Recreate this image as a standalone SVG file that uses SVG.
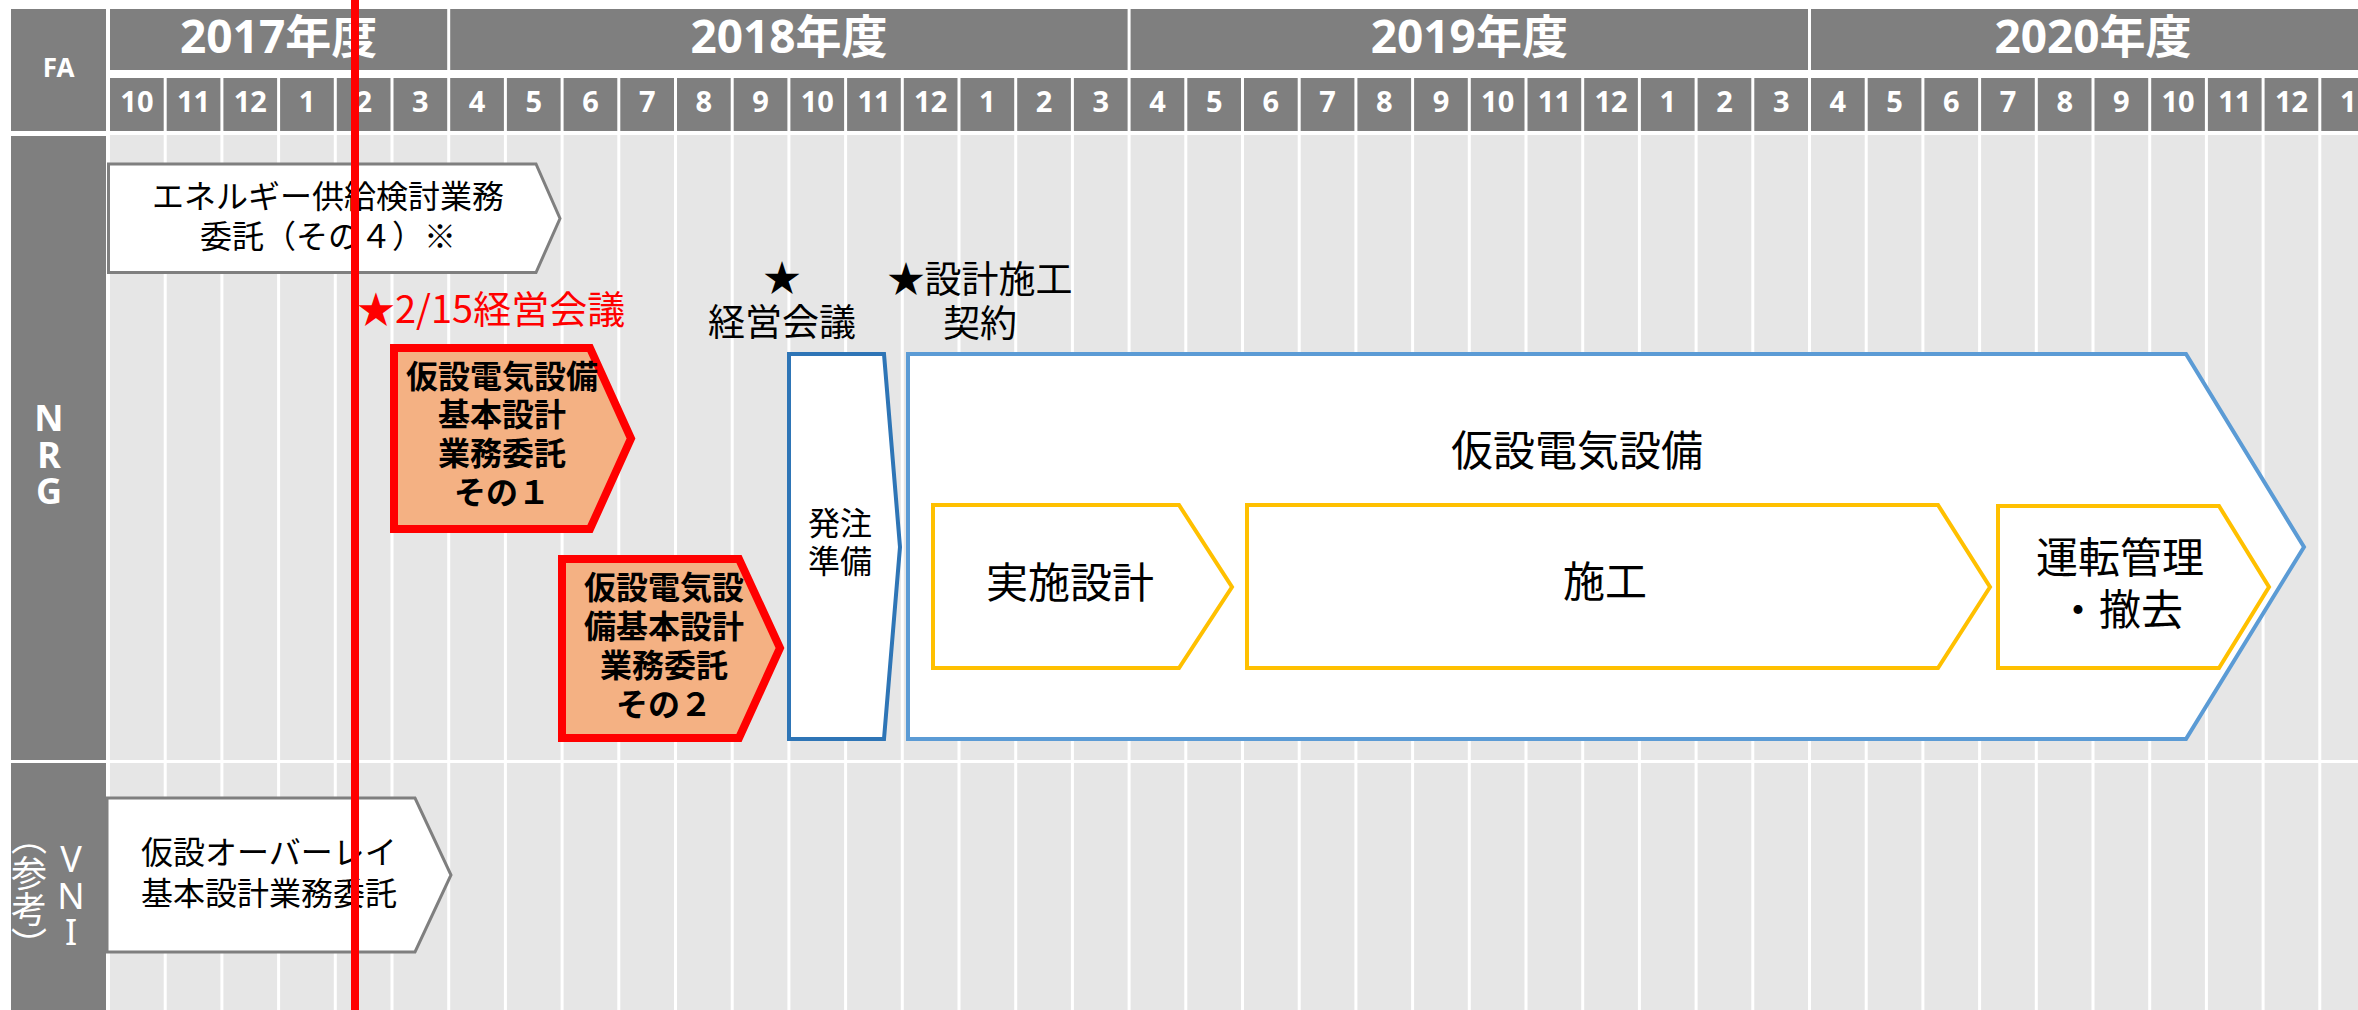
<svg xmlns="http://www.w3.org/2000/svg" width="2358" height="1010" viewBox="0 0 2358 1010">
<style>
.g{fill:#7f7f7f}
.w{fill:#ffffff}
.hd{fill:#ffffff;font-family:"Noto Sans","Noto Sans CJK JP",sans-serif;font-weight:bold;text-anchor:middle}
.yr{font-size:46px}
.mo{font-size:29px}
.jp{font-family:"Noto Sans CJK JP",sans-serif;fill:#000000;text-anchor:middle}
.st{text-anchor:start}
.b{font-weight:bold}
.gl{stroke:#ffffff;stroke-width:3}
.gray{fill:#ffffff;stroke:#7f7f7f;stroke-width:3}
.org{fill:#f4b183;stroke:#ff0000;stroke-width:8;stroke-linejoin:miter}
.ylw{fill:#ffffff;stroke:#ffc000;stroke-width:4}
</style>
<rect width="2358" height="1010" fill="#ffffff"/>
<g id="header">
  <rect id="fa" class="g" x="11" y="9" width="95" height="122"/>
  <text class="hd" x="58.5" y="77" font-size="26">FA</text>
  <rect class="g" x="110" y="9" width="2248" height="61"/>
  <g class="gl">
    <line x1="448.7" y1="9" x2="448.7" y2="70"/>
    <line x1="1129.1" y1="9" x2="1129.1" y2="70"/>
    <line x1="1809.5" y1="9" x2="1809.5" y2="70"/>
  </g>
  <g class="hd yr">
    <text x="278.6" y="53">2017年度</text>
    <text x="789" y="53">2018年度</text>
    <text x="1469.3" y="53">2019年度</text>
    <text x="2093" y="53">2020年度</text>
  </g>
  <rect class="g" x="110" y="78" width="2248" height="53"/>
</g>
<rect id="body-bg" x="110" y="135" width="2248" height="875" fill="#e6e6e6"/>
<g id="grid" class="gl">
  <line x1="108.5" y1="78" x2="108.5" y2="1010"/>
  <line x1="165.2" y1="78" x2="165.2" y2="1010"/>
  <line x1="221.9" y1="78" x2="221.9" y2="1010"/>
  <line x1="278.6" y1="78" x2="278.6" y2="1010"/>
  <line x1="335.3" y1="78" x2="335.3" y2="1010"/>
  <line x1="392" y1="78" x2="392" y2="1010"/>
  <line x1="448.7" y1="78" x2="448.7" y2="1010"/>
  <line x1="505.4" y1="78" x2="505.4" y2="1010"/>
  <line x1="562.1" y1="78" x2="562.1" y2="1010"/>
  <line x1="618.8" y1="78" x2="618.8" y2="1010"/>
  <line x1="675.5" y1="78" x2="675.5" y2="1010"/>
  <line x1="732.2" y1="78" x2="732.2" y2="1010"/>
  <line x1="788.9" y1="78" x2="788.9" y2="1010"/>
  <line x1="845.6" y1="78" x2="845.6" y2="1010"/>
  <line x1="902.3" y1="78" x2="902.3" y2="1010"/>
  <line x1="959" y1="78" x2="959" y2="1010"/>
  <line x1="1015.7" y1="78" x2="1015.7" y2="1010"/>
  <line x1="1072.4" y1="78" x2="1072.4" y2="1010"/>
  <line x1="1129.1" y1="78" x2="1129.1" y2="1010"/>
  <line x1="1185.8" y1="78" x2="1185.8" y2="1010"/>
  <line x1="1242.5" y1="78" x2="1242.5" y2="1010"/>
  <line x1="1299.2" y1="78" x2="1299.2" y2="1010"/>
  <line x1="1355.9" y1="78" x2="1355.9" y2="1010"/>
  <line x1="1412.6" y1="78" x2="1412.6" y2="1010"/>
  <line x1="1469.3" y1="78" x2="1469.3" y2="1010"/>
  <line x1="1526" y1="78" x2="1526" y2="1010"/>
  <line x1="1582.7" y1="78" x2="1582.7" y2="1010"/>
  <line x1="1639.4" y1="78" x2="1639.4" y2="1010"/>
  <line x1="1696.1" y1="78" x2="1696.1" y2="1010"/>
  <line x1="1752.8" y1="78" x2="1752.8" y2="1010"/>
  <line x1="1809.5" y1="78" x2="1809.5" y2="1010"/>
  <line x1="1866.2" y1="78" x2="1866.2" y2="1010"/>
  <line x1="1922.9" y1="78" x2="1922.9" y2="1010"/>
  <line x1="1979.6" y1="78" x2="1979.6" y2="1010"/>
  <line x1="2036.3" y1="78" x2="2036.3" y2="1010"/>
  <line x1="2093" y1="78" x2="2093" y2="1010"/>
  <line x1="2149.7" y1="78" x2="2149.7" y2="1010"/>
  <line x1="2206.4" y1="78" x2="2206.4" y2="1010"/>
  <line x1="2263.1" y1="78" x2="2263.1" y2="1010"/>
  <line x1="2319.8" y1="78" x2="2319.8" y2="1010"/>
</g>
<g id="months" class="hd mo">
  <text x="136.9" y="112">10</text><text x="193.6" y="112">11</text><text x="250.3" y="112">12</text>
  <text x="307" y="112">1</text><text x="363.7" y="112">2</text><text x="420.4" y="112">3</text>
  <text x="477.1" y="112">4</text><text x="533.8" y="112">5</text><text x="590.5" y="112">6</text>
  <text x="647.2" y="112">7</text><text x="703.9" y="112">8</text><text x="760.6" y="112">9</text>
  <text x="817.3" y="112">10</text><text x="874" y="112">11</text><text x="930.7" y="112">12</text>
  <text x="987.4" y="112">1</text><text x="1044.1" y="112">2</text><text x="1100.8" y="112">3</text>
  <text x="1157.5" y="112">4</text><text x="1214.2" y="112">5</text><text x="1270.9" y="112">6</text>
  <text x="1327.6" y="112">7</text><text x="1384.3" y="112">8</text><text x="1441" y="112">9</text>
  <text x="1497.7" y="112">10</text><text x="1554.4" y="112">11</text><text x="1611.1" y="112">12</text>
  <text x="1667.8" y="112">1</text><text x="1724.5" y="112">2</text><text x="1781.2" y="112">3</text>
  <text x="1837.9" y="112">4</text><text x="1894.6" y="112">5</text><text x="1951.3" y="112">6</text>
  <text x="2008" y="112">7</text><text x="2064.7" y="112">8</text><text x="2121.4" y="112">9</text>
  <text x="2178.1" y="112">10</text><text x="2234.8" y="112">11</text><text x="2291.5" y="112">12</text>
  <text x="2348.2" y="112">1</text>
</g>
<rect x="0" y="760" width="2358" height="3" fill="#ffffff"/>
<g id="lane-nrg">
  <rect class="g" x="11" y="136" width="95" height="624"/>
  <text class="hd" font-size="36"><tspan x="49" y="431">N</tspan><tspan x="49" y="468">R</tspan><tspan x="49" y="504">G</tspan></text>
</g>
<g id="lane-vni">
  <rect class="g" x="11" y="763" width="95" height="247"/>
  <text x="29" y="819" fill="#ffffff" font-family="Noto Sans CJK JP, sans-serif" font-size="36" style="writing-mode:vertical-rl">（参考）</text>
  <text fill="#ffffff" font-family="Noto Sans, sans-serif" font-size="36" text-anchor="middle"><tspan x="71" y="872">V</tspan><tspan x="71" y="909">N</tspan><tspan x="71" y="945">I</tspan></text>
</g>
<g id="n-energy">
  <polygon class="gray" points="108.5,164 536,164 560,218.5 536,272.5 108.5,272.5"/>
  <text class="jp" font-size="32"><tspan x="328" y="208">エネルギー供給検討業務</tspan><tspan x="328" y="248">委託（その４）※</tspan></text>
</g>
<g id="n-meeting-0215">
  <text class="jp st" x="357" y="323" font-size="38" style="fill:#ff0000">★2/15経営会議</text>
</g>
<g id="n-basic1">
  <polygon class="org" points="394,348 590,348 631,438.5 590,529 394,529"/>
  <text class="jp b" font-size="32"><tspan x="502" y="388">仮設電気設備</tspan><tspan x="502" y="426">基本設計</tspan><tspan x="502" y="465">業務委託</tspan><tspan x="502" y="504">その１</tspan></text>
</g>
<g id="n-basic2">
  <polygon class="org" points="562,559 739,559 780,648 739,738 562,738"/>
  <text class="jp b" font-size="32"><tspan x="664" y="599">仮設電気設</tspan><tspan x="664" y="638">備基本設計</tspan><tspan x="664" y="677">業務委託</tspan><tspan x="664" y="716">その２</tspan></text>
</g>
<g id="n-meeting">
  <text class="jp" font-size="37"><tspan x="782" y="292">★</tspan><tspan x="782" y="336">経営会議</tspan></text>
</g>
<g id="n-contract">
  <text class="jp" font-size="37"><tspan x="980" y="293">★設計施工</tspan><tspan x="980" y="337">契約</tspan></text>
</g>
<g id="n-order">
  <polygon points="789,354 884,354 900,547 884,739 789,739" fill="#ffffff" stroke="#2e75b6" stroke-width="4"/>
  <text class="jp" font-size="32"><tspan x="840" y="535">発注</tspan><tspan x="840" y="573">準備</tspan></text>
</g>
<g id="n-facility">
  <polygon points="908,354 2186,354 2304,547 2186,739 908,739" fill="#ffffff" stroke="#5b9bd5" stroke-width="4"/>
  <text class="jp" x="1577" y="466" font-size="42">仮設電気設備</text>
</g>
<g id="n-design">
  <polygon class="ylw" points="933,505 1179,505 1232,587 1179,668 933,668"/>
  <text class="jp" x="1070" y="598" font-size="42">実施設計</text>
</g>
<g id="n-construct">
  <polygon class="ylw" points="1247,505 1938,505 1990,587 1938,668 1247,668"/>
  <text class="jp" x="1605" y="597" font-size="42">施工</text>
</g>
<g id="n-operate">
  <polygon class="ylw" points="1998,506 2219,506 2269,587 2219,668 1998,668"/>
  <text class="jp" font-size="42"><tspan x="2120" y="573">運転管理</tspan><tspan x="2120" y="625">・撤去</tspan></text>
</g>
<g id="n-overlay">
  <polygon class="gray" points="107,798 415,798 451,875 415,952 107,952"/>
  <text class="jp st" font-size="32"><tspan x="141" y="864">仮設オーバーレイ</tspan><tspan x="141" y="905">基本設計業務委託</tspan></text>
</g>
<g id="connectors"></g>
<g id="today-line">
  <line x1="355" y1="0" x2="355" y2="1010" stroke="#ff0000" stroke-width="8"/>
</g>
</svg>
